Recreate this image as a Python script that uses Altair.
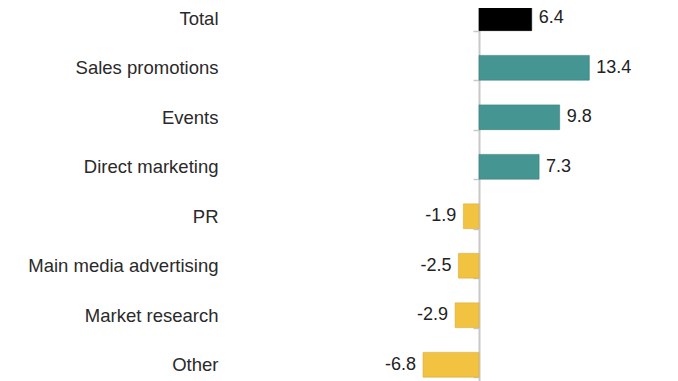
import altair as alt
import pandas as pd

categories = ["Total", "Sales promotions", "Events", "Direct marketing", "PR",
              "Main media advertising", "Market research", "Other"]
values = [6.4, 13.4, 9.8, 7.3, -1.9, -2.5, -2.9, -6.8]
groups = ["total", "up", "up", "up", "down", "down", "down", "down"]

df = pd.DataFrame({"category": categories, "value": values, "group": groups})
df["label"] = df["value"].map(lambda v: f"{v:.1f}")

FONT = "Liberation Sans"

y_enc = alt.Y(
    "category:N",
    sort=categories,
    scale=alt.Scale(range=[-14.5, 381.5], paddingInner=0.5, paddingOuter=0.25),
    axis=alt.Axis(
        title=None,
        domain=True,
        domainColor="#c8c8c8",
        domainWidth=2,
        ticks=True,
        tickBand="extent",
        tickColor="#c8c8c8",
        tickSize=6,
        tickWidth=1.5,
        labelPadding=255,
        labelFont=FONT,
        labelFontSize=18.5,
        labelColor="#2a2a2a",
        labelAlign="right",
        labelBaseline="middle",
        labelLimit=400,
        grid=False,
    ),
)

x_scale = alt.Scale(domain=[0, 23.2], range=[0, 191], zero=False, nice=False)

bars = alt.Chart(df).mark_bar(strokeWidth=0.6).encode(
    y=y_enc,
    x=alt.X("value:Q", scale=x_scale, axis=None),
    x2=alt.datum(0),
    color=alt.Color(
        "group:N",
        scale=alt.Scale(domain=["total", "up", "down"],
                        range=["#000000", "#459593", "#F2C241"]),
        legend=None,
    ),
    stroke=alt.Stroke(
        "group:N",
        scale=alt.Scale(domain=["total", "up", "down"],
                        range=["#000000", "#3a8280", "#d9ad3a"]),
        legend=None,
    ),
)

pos_text = alt.Chart(df).transform_filter("datum.value >= 0").mark_text(
    align="left", baseline="middle", dx=7, font=FONT, fontSize=18, color="#222222"
).encode(
    y=alt.Y("category:N", sort=categories),
    x=alt.X("value:Q", scale=x_scale),
    text="label:N",
)

neg_text = alt.Chart(df).transform_filter("datum.value < 0").mark_text(
    align="right", baseline="middle", dx=-7, font=FONT, fontSize=18, color="#222222"
).encode(
    y=alt.Y("category:N", sort=categories),
    x=alt.X("value:Q", scale=x_scale),
    text="label:N",
)

chart = alt.layer(bars, pos_text, neg_text).properties(
    width=191,
    height=373,
    background="white",
    autosize=alt.AutoSizeParams(type="none"),
    padding={"left": 471, "top": 0, "right": 0, "bottom": 0},
).configure_view(stroke=None)

chart.save("out.html", embed_options={"renderer": "svg", "actions": False})
